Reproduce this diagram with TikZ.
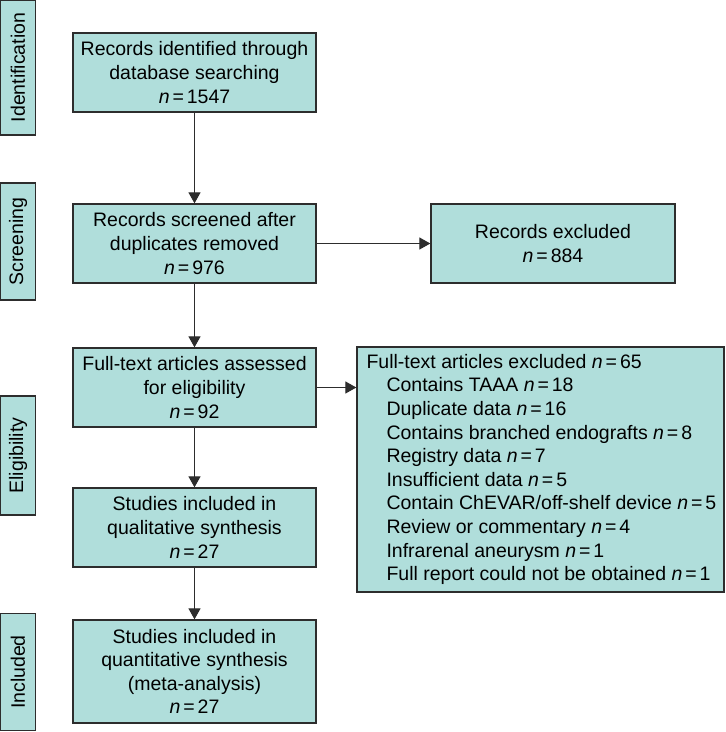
\documentclass[tikz,border=0pt]{standalone}
\usepackage{fontspec}
\setmainfont{Liberation Sans}
\usetikzlibrary{arrows.meta}
\definecolor{boxfill}{RGB}{176,222,219}
\definecolor{boxline}{RGB}{45,45,45}
\newcommand{\nn}[1]{\mbox{\textit{n}\hspace{0.15em}=\hspace{0.15em}#1}}
\begin{document}
\begin{tikzpicture}[x=1pt,y=-1pt,
  base/.style={draw=boxline,fill=boxfill,line width=1.3pt,inner sep=0pt,
    font=\fontsize{19.5}{23.6}\selectfont,align=center},
  mainbox/.style={base,minimum width=243pt,minimum height=79pt},
  sidebox/.style={base,minimum width=35pt,rotate=90},
  listtext/.style={inner sep=0pt,font=\fontsize{19.5}{23.6}\selectfont,align=left},
  conn/.style={line width=1.2pt,draw=boxline,-{Triangle[length=11pt,width=12pt]}}]
\useasboundingbox (0,0) rectangle (726,732);
% side labels
\node[sidebox,minimum width=135pt,minimum height=35pt] (sid) at (18,67.5) {Identification};
\node[sidebox,minimum width=117pt,minimum height=35pt] (sscr) at (18,241.5) {Screening};
\node[sidebox,minimum width=119pt,minimum height=35pt] (selig) at (18,455.5) {Eligibility};
\node[sidebox,minimum width=117pt,minimum height=35pt] (sinc) at (18,672) {Included};
% main column
\node[mainbox] (b1) at (194.5,72.5) {Records identified through\\database searching\\\nn{1547}};
\node[mainbox] (b2) at (194.5,243.5) {Records screened after\\duplicates removed\\\nn{976}};
\node[mainbox] (b3) at (194.5,387.5) {Full-text articles assessed\\for eligibility\\\nn{92}};
\node[mainbox] (b4) at (194.5,527.5) {Studies included in\\qualitative synthesis\\\nn{27}};
\node[mainbox,minimum height=103pt] (b5) at (194.5,671.5) {Studies included in\\quantitative synthesis\\(meta-analysis)\\\nn{27}};
% exclusion boxes
\node[mainbox,minimum width=244pt] (e1) at (553,243.5) {Records excluded\\\nn{884}};
\node[base,minimum width=367pt,minimum height=245pt] (e2) at (540.5,469.5) {};
\node[listtext,anchor=west] (e2t) at ([xshift=10pt]e2.west)
 {Full-text articles excluded \nn{65}\\
  \hspace*{20pt}Contains TAAA \nn{18}\\
  \hspace*{20pt}Duplicate data \nn{16}\\
  \hspace*{20pt}Contains branched endografts \nn{8}\\
  \hspace*{20pt}Registry data \nn{7}\\
  \hspace*{20pt}Insufficient data \nn{5}\\
  \hspace*{20pt}Contain ChEVAR/off-shelf device \nn{5}\\
  \hspace*{20pt}Review or commentary \nn{4}\\
  \hspace*{20pt}Infrarenal aneurysm \nn{1}\\
  \hspace*{20pt}Full report could not be obtained \nn{1}};
% connectors
\draw[conn] (b1) -- (b2);
\draw[conn] (b2) -- (b3);
\draw[conn] (b3) -- (b4);
\draw[conn] (b4) -- (b5);
\draw[conn] (b2) -- (e1);
\draw[conn] (b3.east) -- (b3.east -| e2.west);
\end{tikzpicture}
\end{document}
